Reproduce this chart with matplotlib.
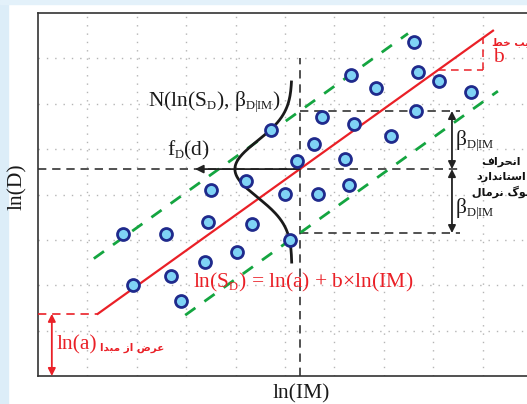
import numpy as np
import matplotlib
matplotlib.use("Agg")
import matplotlib.pyplot as plt
from matplotlib.patches import Rectangle
try:
    import matplotlib._mathtext as _mt
    _mt.SHRINK_FACTOR = 0.58
except Exception:
    pass

# ---------------- data (schematic values) ----------------
pts_x = [7.61, 6.34, 7.69, 8.12, 6.84, 8.77, 7.65, 5.75, 6.40, 4.72, 7.15, 5.59, 6.21, 5.24,
         6.30, 4.21, 3.50, 5.00, 5.67, 3.44, 4.33, 5.10, 1.72, 2.59, 4.03, 3.38, 1.92, 2.69, 2.89]
pts_y = [7.36, 6.63, 6.70, 6.50, 6.34, 6.26, 5.84, 5.71, 5.55, 5.42, 5.29, 5.11, 4.78, 4.74,
         4.21, 4.30, 4.10, 4.01, 4.01, 3.39, 3.35, 3.00, 3.13, 3.13, 2.73, 2.51, 2.00, 2.20, 1.65]

ln_a = 1.37          # intercept level
x_start = 1.21       # where the regression line starts
x_end = 9.21         # where the regression line ends
slope_b = 0.78       # slope b
beta_up = 1.28       # upper dispersion band
beta_dn = 1.41       # lower dispersion band
green_up_range = [1.13, 7.49]
green_dn_range = [2.98, 9.31]
im_ref = 5.30        # reference ln(IM)
pdf_base = 5.14      # baseline of the normal pdf sketch
pdf_amp = 1.154
pdf_sigma = 0.62
pdf_range = [2.51, 6.48]
slope_tri_x = [8.09, 9.01]
band_end_x = 8.54
arrow_x = 8.38
arrow_tip_x = 3.18
lna_arrow_x = 0.28

xgrid = [1, 2, 3, 4, 5, 6, 7, 8, 9]
ygrid = [1, 2, 3, 4, 5, 6, 7]

# ---------------- Persian shaping helper ----------------
FORMS = {
    'ا': ('\uFE8D', '\uFE8E', None, None),
    'ب': ('\uFE8F', '\uFE90', '\uFE91', '\uFE92'),
    'ت': ('\uFE95', '\uFE96', '\uFE97', '\uFE98'),
    'ح': ('\uFEA1', '\uFEA2', '\uFEA3', '\uFEA4'),
    'خ': ('\uFEA5', '\uFEA6', '\uFEA7', '\uFEA8'),
    'د': ('\uFEA9', '\uFEAA', None, None),
    'ر': ('\uFEAD', '\uFEAE', None, None),
    'ز': ('\uFEAF', '\uFEB0', None, None),
    'س': ('\uFEB1', '\uFEB2', '\uFEB3', '\uFEB4'),
    'ش': ('\uFEB5', '\uFEB6', '\uFEB7', '\uFEB8'),
    'ض': ('\uFEBD', '\uFEBE', '\uFEBF', '\uFEC0'),
    'ط': ('\uFEC1', '\uFEC2', '\uFEC3', '\uFEC4'),
    'ع': ('\uFEC9', '\uFECA', '\uFECB', '\uFECC'),
    'ف': ('\uFED1', '\uFED2', '\uFED3', '\uFED4'),
    'ل': ('\uFEDD', '\uFEDE', '\uFEDF', '\uFEE0'),
    'م': ('\uFEE1', '\uFEE2', '\uFEE3', '\uFEE4'),
    'ن': ('\uFEE5', '\uFEE6', '\uFEE7', '\uFEE8'),
    'و': ('\uFEED', '\uFEEE', None, None),
    'ی': ('\uFBFC', '\uFBFD', '\uFBFE', '\uFBFF'),
    'گ': ('\uFB92', '\uFB93', '\uFB94', '\uFB95'),
}


def shape(s):
    out = []
    for i, c in enumerate(s):
        if c not in FORMS:
            out.append(c)
            continue
        iso, fin, ini, med = FORMS[c]
        prev = s[i - 1] if i > 0 else None
        nxt = s[i + 1] if i + 1 < len(s) else None
        jp = prev in FORMS and FORMS[prev][2] is not None
        jn = nxt in FORMS and ini is not None
        if jp and jn:
            out.append(med)
        elif jp:
            out.append(fin)
        elif jn:
            out.append(ini)
        else:
            out.append(iso)
    return ''.join(reversed(out))


# ---------------- figure ----------------
plt.rcParams['mathtext.fontset'] = 'custom'
plt.rcParams['mathtext.rm'] = 'Liberation Serif'
plt.rcParams['mathtext.it'] = 'Liberation Serif:italic'

W, H = 527, 404
fig = plt.figure(figsize=(W / 100, H / 100), dpi=100)
fig.patches.append(Rectangle((0, 0), 8 / W, 1, transform=fig.transFigure,
                             color='#dcedf8', zorder=0))
fig.patches.append(Rectangle((0, 1 - 4 / H), 1, 4 / H, transform=fig.transFigure,
                             color='#e3f1fa', zorder=0))

ax = fig.add_axes([38 / W, 28 / H, 1 - 38 / W, 363 / H])
ax.set_xlim(0, (W - 38) / 49.4)
ax.set_ylim(0, 8)
ax.set_xticks([])
ax.set_yticks([])
for s in ['left', 'top', 'bottom']:
    ax.spines[s].set_color('#333333')
    ax.spines[s].set_linewidth(1.2)
ax.spines['right'].set_visible(False)

for gx in xgrid:
    ax.axvline(gx, color='#b5b5b5', lw=1.0, ls=(0, (1, 5)), zorder=0)
for gy in ygrid:
    ax.axhline(gy, color='#b5b5b5', lw=1.0, ls=(0, (1, 5)), zorder=0)

red = '#ea2027'
green = '#14a540'
dark = '#333333'


def reg(x):
    return ln_a + slope_b * (np.asarray(x) - x_start)


# regression line
ax.plot([0, x_start], [ln_a, ln_a], color=red, lw=1.2, ls=(0, (5, 3.5)), zorder=3)
ax.plot([x_start, x_end], reg([x_start, x_end]), color=red, lw=1.6, zorder=4)

# slope triangle
ax.plot(slope_tri_x, [reg(slope_tri_x[0])] * 2, color=red, lw=1.1, ls=(0, (5, 3.5)), zorder=3)
ax.plot([slope_tri_x[1]] * 2, [reg(slope_tri_x[0]), reg(slope_tri_x[1])], color=red, lw=1.1,
        ls=(0, (5, 3.5)), zorder=3)

# dispersion bands
ax.plot(green_up_range, reg(green_up_range) + beta_up, color=green, lw=2.0,
        ls=(0, (4.5, 4)), zorder=3)
ax.plot(green_dn_range, reg(green_dn_range) - beta_dn, color=green, lw=2.0,
        ls=(0, (4.5, 4)), zorder=3)

yc = reg(im_ref)
# reference dashed lines
ax.plot([im_ref, im_ref], [0, 7.0], color=dark, lw=1.2, ls=(0, (5, 3.5)), zorder=2)
ax.plot([0, band_end_x], [yc, yc], color=dark, lw=1.2, ls=(0, (5, 3.5)), zorder=2)
ax.plot([im_ref, band_end_x], [yc + beta_up] * 2, color=dark, lw=1.2, ls=(0, (5, 3.5)), zorder=2)
ax.plot([im_ref, band_end_x], [yc - beta_dn] * 2, color=dark, lw=1.2, ls=(0, (5, 3.5)), zorder=2)

# pdf arrow
ax.annotate('', xy=(arrow_tip_x, yc), xytext=(im_ref, yc),
            arrowprops=dict(arrowstyle='-|>', color='#222222', lw=1.3, mutation_scale=12,
                            shrinkA=0, shrinkB=0), zorder=5)

# beta arrows
for y0, y1 in [(yc, yc + beta_up), (yc, yc - beta_dn)]:
    ax.annotate('', xy=(arrow_x, y1), xytext=(arrow_x, y0),
                arrowprops=dict(arrowstyle='<|-|>', color='#222222', lw=1.3,
                                mutation_scale=11, shrinkA=0, shrinkB=0), zorder=5)

# ln(a) arrow
ax.annotate('', xy=(lna_arrow_x, ln_a), xytext=(lna_arrow_x, 0),
            arrowprops=dict(arrowstyle='<|-|>', color=red, lw=1.3, mutation_scale=11,
                            shrinkA=0, shrinkB=0), zorder=5)

# normal pdf sketch
yy = np.linspace(pdf_range[0], pdf_range[1], 200)
xx = pdf_base - pdf_amp * np.exp(-(yy - yc) ** 2 / (2 * pdf_sigma ** 2))
ax.plot(xx, yy, color='#1a1a1a', lw=2.0, zorder=6)

# points
ax.plot(pts_x, pts_y, 'o', ms=8.6, mfc='#7fd3f5', mec='#1f2a8c', mew=2.0, zorder=7, ls='none')

# ---------------- texts ----------------
serif = 'Liberation Serif'
fs = 15.5
ax.text(3.14, 2.05, r'ln(S$_{\rm D}$) = ln(a) + b×ln(IM)', color=red, fontsize=fs,
        family=serif, va='center', ha='left', zorder=8)
ax.text(2.23, 6.02, r'N(ln(S$_{\rm D}$), β$_{\rm D|IM}$)', color='#1a1a1a', fontsize=fs,
        family=serif, va='center', ha='left', zorder=8)
ax.text(2.61, 4.98, r'f$_{\rm D}$(d)', color='#1a1a1a', fontsize=fs, family=serif,
        va='center', ha='left', zorder=8)
ax.text(8.44, 5.17, r'β$_{\rm D|IM}$', color='#1a1a1a', fontsize=fs, family=serif,
        va='center', ha='left', zorder=8)
ax.text(8.44, 3.66, r'β$_{\rm D|IM}$', color='#1a1a1a', fontsize=fs, family=serif,
        va='center', ha='left', zorder=8)
ax.text(0.38, 0.68, 'ln(a)', color=red, fontsize=fs, family=serif, va='center', ha='left',
        zorder=8)
ax.text(9.21, 7.03, 'b', color=red, fontsize=fs, family=serif, va='center', ha='left', zorder=8)

pfont = ['DejaVu Sans']
ax.text(1.26, 0.62, shape('عرض از مبدا'), color=red, fontsize=7.5, fontweight='bold',
        family=pfont, va='center', ha='left', zorder=8)
ax.text(9.19, 7.36, shape('شیب خط'), color=red, fontsize=7.5, fontweight='bold',
        family=pfont, va='center', ha='left', zorder=8, clip_on=False)
for txt, yv in [('انحراف', 4.71), ('استاندارد', 4.39), ('لوگ نرمال', 4.07)]:
    ax.text(9.38, yv, shape(txt), color='#111111', fontsize=8, fontweight='bold',
            family=pfont, va='center', ha='center', zorder=8)

fig.text(17 / W, 1 - 187 / H, 'ln(D)', rotation=90, fontsize=fs, family=serif,
         color='#1a1a1a', va='center', ha='center')
fig.text(301 / W, 1 - 394 / H, 'ln(IM)', fontsize=fs, family=serif, color='#1a1a1a',
         va='center', ha='center')

fig.savefig('out.png', dpi=100)
